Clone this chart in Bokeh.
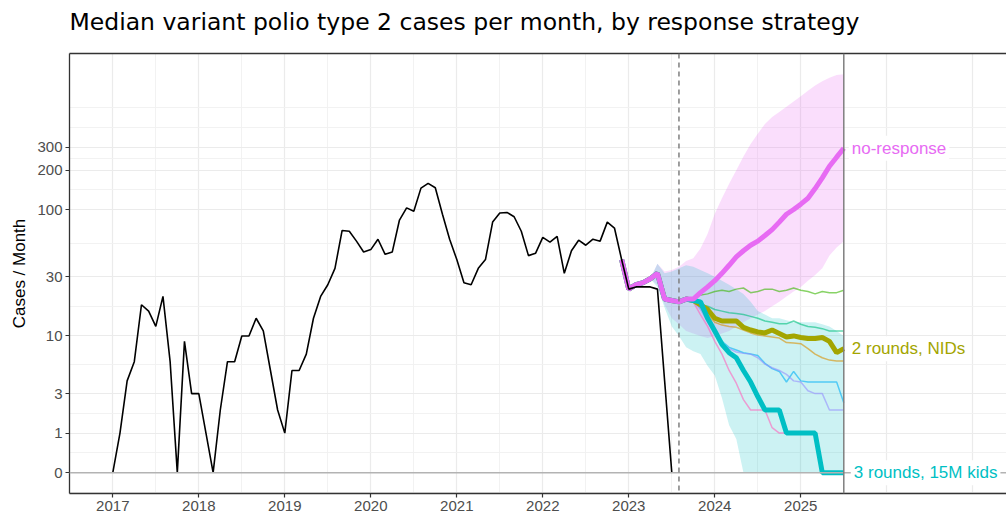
import numpy as np
from bokeh.plotting import figure
from bokeh.models import Range1d, FixedTicker, LinearAxis, Span, Label, CustomJSTickFormatter
from bokeh.embed import file_html
from bokeh.resources import INLINE

# ---------------- data ----------------
hist_start = (2017, 1)          # Jan 2017, monthly
hist_cases = [0, 1, 4, 6, 18, 16, 12, 21, 6, 0, 9, 3,
              3, 1, 0, 2, 6, 6, 10, 10, 14, 11, 5, 2,
              1, 5, 5, 7, 14, 21, 26, 35, 69, 68, 57, 47,
              49, 59, 45, 47, 83, 103, 97, 146, 159, 147, 92, 59,
              41, 27, 26, 35, 41, 80, 94, 95, 88, 68, 44, 46,
              61, 56, 62, 32, 48, 58, 53, 59, 57, 80, 72, 41,
              24, 25, 25, 25, 24, 4, 0]

proj_start = (2022, 12)         # Dec 2022 .. Jul 2025, monthly
proj_common = [41, 24, 26, 27, 29, 32, 20, 19.5, 19, 20]
no_response = proj_common + [20, 22.5, 25, 28, 32, 37, 43, 48, 53, 57, 63, 70, 80, 92, 100, 110, 122, 145, 175, 215, 252, 295]
nids_2r = proj_common + [19.5, 18, 16.5, 14, 13.3, 13.3, 13.3, 11.8, 11.2, 10.8, 10.6, 11.2, 10.5, 9.8, 10, 9.7, 9.5, 9.5, 9.7, 9, 7.2, 7.8]
kids15m_3r = proj_common + [19.5, 19, 14, 11, 8.5, 7.2, 6.5, 5.0, 3.9, 2.8, 2.0, 2.0, 2.0, 1, 1, 1, 1, 1, 0, 0, 0, 0]
other_strategies = {
    "#D89000": proj_common + [19.5, 17.5, 15, 13, 12.3, 12, 11.8, 11.2, 10.6, 10.2, 10, 9.8, 9.6, 8.8, 8.7, 8.6, 7.8, 7, 6.5, 6.2, 6.1, 6.1],
    "#39B600": proj_common + [20.5, 21.5, 22, 23, 23.5, 23, 24, 24.5, 22.5, 23, 24, 24, 23, 23.5, 24.5, 23.5, 23, 22, 23, 22.5, 22.5, 23.5],
    "#00BF7D": proj_common + [19.5, 18, 17.5, 16.5, 16, 15.5, 15.3, 15, 14.5, 14, 13.3, 13, 12.6, 12.6, 13.3, 12.5, 12, 11.8, 11.5, 11, 11, 11],
    "#00B0F6": proj_common + [19.5, 17, 14, 11, 9, 8, 7.6, 7.2, 7, 6.8, 5.8, 5.2, 4.9, 3.9, 4.9, 4.0, 3.9, 3.9, 3.9, 3.9, 3.9, 2.4],
    "#9590FF": proj_common + [19.5, 16.5, 13, 10.5, 8.5, 7.8, 7.3, 7.1, 7, 6.5, 5.7, 5.3, 5.0, 4.6, 4.0, 3.9, 3.2, 3.0, 3.0, 2.0, 2.0, 2.0],
    "#FF62BC": proj_common + [19, 15, 12, 9, 7, 5, 3.8, 2.6, 2, 2, 2, 1.2, 1, 1, 1, 1, 1, 1, 0, 0, 0, 0],
}
ribbon_start = (2023, 4)        # Apr 2023 .. Jul 2025
no_response_lo = [29, 26, 18, 14, 12.5, 11, 10.5, 10, 9.6, 10, 10.5, 11, 12, 13, 14, 15, 16, 17.5, 19, 21, 23, 25, 28, 31, 35, 44, 51, 57]
no_response_hi = [29, 38, 33, 34, 36, 40, 42, 50, 65, 93, 122, 158, 200, 255, 318, 380, 452, 510, 559, 612, 670, 737, 810, 890, 956, 1018, 1070, 1085]
kids15m_3r_lo = [29, 25, 17, 12, 10, 8, 7.4, 7.0, 5.5, 4.5, 2.7, 1.3, 0.8] + [0] * 15
kids15m_3r_hi = [29, 38, 32, 33, 35, 37, 36, 34, 32, 30, 28, 26, 24, 22, 19, 16, 15, 14, 14, 13.5, 13, 13, 13, 13, 12.5, 12, 11, 10]
response_date = (2023, 8)

y_breaks = [0, 1, 3, 10, 30, 100, 200, 300]
x_years = list(range(2017, 2026))
title_text = "Median variant polio type 2 cases per month, by response strategy"

# ---------------- helpers ----------------
def months(start, n):
    y, m = start
    return [y + (m - 1 + i) / 12 for i in range(n)]

def tr(v):
    return np.log10(np.asarray(v, dtype=float) + 1)

hx = months(hist_start, len(hist_cases))
px = months(proj_start, len(no_response))
rx = months(ribbon_start, len(no_response_lo))
resp_x = months(response_date, 1)[0]

major_t = list(tr(y_breaks))
d0 = major_t[1] - major_t[0]
ext = major_t + [major_t[-1] + d0]
minor_t = [(a + b) / 2 for a, b in zip(ext[:-1], ext[1:])] + [ext[-1], major_t[0] - d0 / 2]

FONT = "Liberation Sans"

p = figure(width=1006, height=513, output_backend="svg", toolbar_location=None,
           x_range=Range1d(2016.4965, 2027.392), y_range=Range1d(-0.159, 3.193),
           min_border_left=69, min_border_right=0, min_border_top=53, min_border_bottom=0)
p.background_fill_color = "white"
p.border_fill_color = "white"
p.outline_line_color = None

p.title.text = title_text
p.title.text_font = "DejaVu Sans"
p.title.text_font_size = "23.5px"
p.title.text_font_style = "normal"
p.title.text_color = "black"
p.title.align = "left"
p.title.standoff = 0

# axes
p.xaxis.ticker = FixedTicker(ticks=x_years)
p.yaxis.ticker = FixedTicker(ticks=major_t, minor_ticks=minor_t)
p.yaxis.formatter = CustomJSTickFormatter(code="return String(Math.round(Math.pow(10, tick) - 1));")
for ax in (p.xaxis[0], p.yaxis[0]):
    ax.axis_line_color = "#333333"
    ax.axis_line_width = 1.3
    ax.major_tick_line_color = "#333333"
    ax.major_tick_line_width = 1.2
    ax.major_tick_out = 4
    ax.major_tick_in = 0
    ax.minor_tick_line_color = None
    ax.major_label_text_font = FONT
    ax.major_label_text_font_size = "15px"
    ax.major_label_text_color = "#4d4d4d"
p.xaxis.major_label_standoff = 3
p.yaxis.major_label_standoff = 3
p.yaxis.axis_label = "Cases / Month"
p.yaxis.axis_label_text_font = FONT
p.yaxis.axis_label_text_font_size = "17px"
p.yaxis.axis_label_text_font_style = "normal"
p.yaxis.axis_label_text_color = "black"
p.yaxis.axis_label_standoff = 5

# top border line; a blank axis label gives spacing below the title
top_ax = LinearAxis(axis_line_color="#333333", axis_line_width=1.3, major_tick_line_color=None,
                    minor_tick_line_color=None, major_label_text_font_size="0px",
                    ticker=FixedTicker(ticks=[]), axis_label=" ",
                    axis_label_text_font=FONT, axis_label_text_font_size="13px",
                    axis_label_standoff=0)
p.add_layout(top_ax, "above")

# grid
p.xgrid.ticker = FixedTicker(ticks=list(range(2017, 2028)),
                             minor_ticks=[y + 0.5 for y in range(2016, 2026)])
p.xgrid.grid_line_color = "#ebebeb"
p.xgrid.grid_line_width = 1.2
p.xgrid.minor_grid_line_color = "#f0f0f0"
p.xgrid.minor_grid_line_width = 0.9
p.ygrid.grid_line_color = "#ebebeb"
p.ygrid.grid_line_width = 1.2
p.ygrid.minor_grid_line_color = "#f0f0f0"
p.ygrid.minor_grid_line_width = 0.9

# reference lines
p.add_layout(Span(location=0, dimension="width", line_color="#b3b3b3", line_width=1.5))
p.add_layout(Span(location=px[-1], dimension="height", line_color="#7f7f7f", line_width=1.5))
p.add_layout(Span(location=resp_x, dimension="height", line_color="#7f7f7f", line_width=1.5,
                  line_dash="5 4"))

# ribbons
p.varea(x=rx, y1=tr(no_response_lo), y2=tr(no_response_hi), fill_color="#E76BF3", fill_alpha=0.22)
p.varea(x=rx, y1=tr(kids15m_3r_lo), y2=tr(kids15m_3r_hi), fill_color="#00BFC4", fill_alpha=0.2)

# thin strategy lines
for col, vals in other_strategies.items():
    p.line(px, tr(vals), line_color=col, line_width=1.5, line_alpha=0.6)

# highlighted strategies
p.line(px, tr(nids_2r), line_color="#A3A500", line_width=5)
p.line(px, tr(kids15m_3r), line_color="#00BFC4", line_width=5)
p.line(px, tr(no_response), line_color="#E76BF3", line_width=5)

# observed
p.line(hx, tr(hist_cases), line_color="black", line_width=1.6)

# direct labels
for txt, vals, col, xo in [("no-response", no_response, "#E76BF3", 5),
                           ("2 rounds, NIDs", nids_2r, "#A3A500", 5),
                           ("3 rounds, 15M kids", kids15m_3r, "#00BFC4", 7)]:
    p.add_layout(Label(x=px[-1], y=float(tr(vals[-1])), text=txt, x_offset=xo,
                       text_baseline="middle", text_align="left", text_color=col,
                       text_font=FONT, text_font_size="17px",
                       background_fill_color="white", background_fill_alpha=1.0,
                       padding=3, border_radius=3))

open("out.html", "w").write(file_html(p, INLINE))
